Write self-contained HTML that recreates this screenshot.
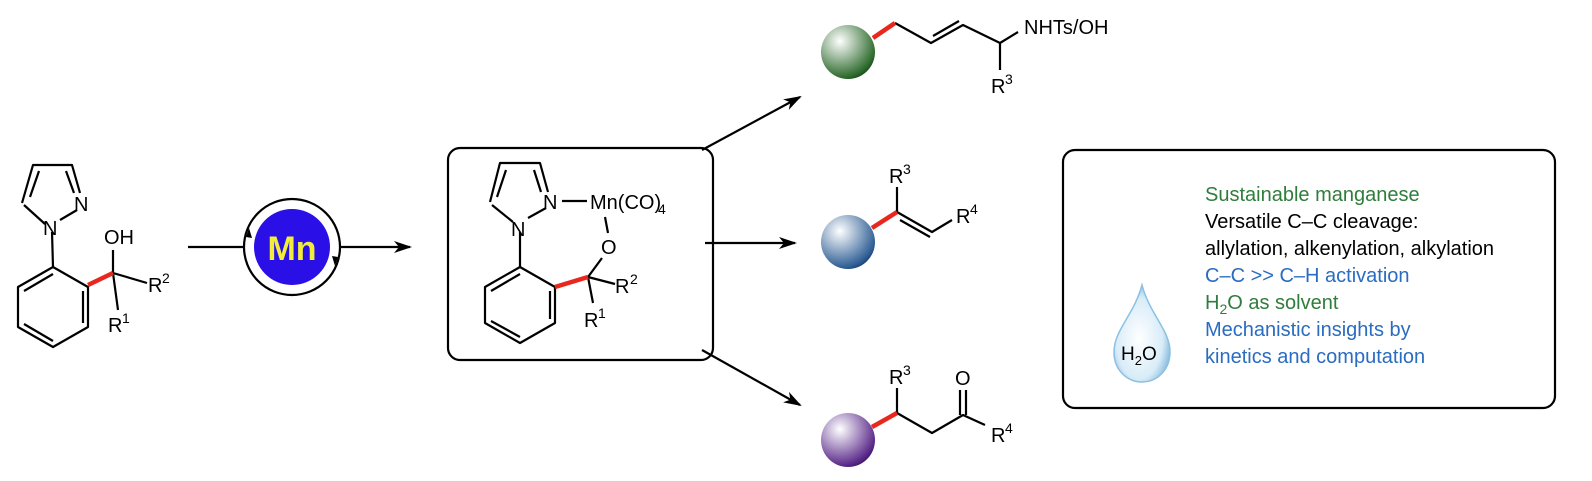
<!DOCTYPE html>
<html><head><meta charset="utf-8"><style>
html,body{margin:0;padding:0;background:#fff;}
svg{display:block;font-family:"Liberation Sans",Arial,sans-serif;}
</style></head><body>
<svg width="1592" height="481" viewBox="0 0 1592 481" xmlns="http://www.w3.org/2000/svg">
<defs>
<radialGradient id="gg" cx="0.35" cy="0.3" r="0.75"><stop offset="0" stop-color="#fff"/><stop offset="0.9" stop-color="#2e6b2e"/><stop offset="1" stop-color="#1e4f1e"/></radialGradient>
<radialGradient id="gb" cx="0.35" cy="0.3" r="0.75"><stop offset="0" stop-color="#fff"/><stop offset="0.9" stop-color="#2f5f95"/><stop offset="1" stop-color="#1d4477"/></radialGradient>
<radialGradient id="gp" cx="0.35" cy="0.3" r="0.75"><stop offset="0" stop-color="#fff"/><stop offset="0.9" stop-color="#5a2a8a"/><stop offset="1" stop-color="#421a6e"/></radialGradient>
<radialGradient id="gd" cx="0.45" cy="0.55" r="0.6"><stop offset="0" stop-color="#fff"/><stop offset="0.7" stop-color="#d8ecf8"/><stop offset="1" stop-color="#7fb5dc"/></radialGradient>
<marker id="ah" markerWidth="18" markerHeight="12" refX="16" refY="6" orient="auto" markerUnits="userSpaceOnUse"><path d="M0,0 L18,6 L0,12 L5,6 Z" fill="#000"/></marker>
</defs>
<g stroke="#000" stroke-width="2.2" fill="none" stroke-linejoin="round">
<!-- left molecule -->
<path d="M22,203 L33,165 L72,165 L80,193"/>
<path d="M30,197 L39,171 M66,171 L74,193"/>
<path d="M45,224 L24,205 M77,210 L60,220"/>
<path d="M52,232 L53,267"/>
<path d="M53,267 L88,287 L88,327 L53,347 L18,327 L18,287 Z"/>
<path d="M83,291 L83,323 M53,341 L24,324 M24,291 L53,274"/>
<path d="M113,273 L113,250 M113,273 L147,283 M113,273 L118,310"/>
<!-- arrow 1 -->
<path d="M188,247 L244,247"/>
<path d="M340,247 L410,247" marker-end="url(#ah)"/>
<circle cx="292" cy="247" r="48"/>
<!-- box middle -->
<rect x="448" y="148" width="265" height="212" rx="12"/>
<path d="M490,202 L500,163 L540,163 L548,192"/>
<path d="M497,197 L506,170 M534,170 L541,192"/>
<path d="M513,222 L492,205 M546,208 L528,218 M562,201 L587,201 M605,217 L608,233"/>
<path d="M520,232 L520,267"/>
<path d="M520,267 L555,287 L555,323 L520,343 L485,323 L485,287 Z"/>
<path d="M550,291 L550,319 M520,337 L491,321 M491,291 L520,274"/>
<path d="M588,277 L602,258 M588,277 L615,284 M588,277 L593,303"/>
<!-- arrows to products -->
<path d="M702,150 L800,97" marker-end="url(#ah)"/>
<path d="M705,243 L795,243" marker-end="url(#ah)"/>
<path d="M702,350 L800,405" marker-end="url(#ah)"/>
<!-- products -->
<path d="M895,23 L931,43 L963,25 L1000,43 L1018,32 M1000,43 L1000,70"/>
<path d="M933,36 L959,21"/>
<path d="M897,212 L897,187 M897,212 L932,232 L952,220 M900,220 L930,237"/>
<path d="M897,413 L897,388 M897,413 L932,433 L963,415 L985,425 M960,415 L960,390 M966,415 L966,390"/>
<!-- right box -->
<rect x="1063" y="150" width="492" height="258" rx="12"/>
</g>
<g stroke="#e8281e" stroke-width="4.5">
<path d="M88,285 L113,273"/>
<path d="M555,287 L588,277"/>
<path d="M873,38 L895,23"/>
<path d="M872,228 L897,212"/>
<path d="M872,427 L897,413"/>
</g>
<circle cx="292" cy="247" r="38" fill="#2a0fe6"/>
<path d="M246,237 L249,228 L252,238 Z M338,257 L335,266 L332,256 Z" fill="#000"/>
<text x="292" y="260" text-anchor="middle" font-size="34" font-weight="bold" fill="#f0ee3a">Mn</text>
<g font-size="20" fill="#000">
<text x="74" y="211">N</text>
<text x="43" y="235">N</text>
<text x="104" y="244">OH</text>
<text x="148" y="292">R</text><text x="162" y="283" font-size="14">2</text>
<text x="108" y="332">R</text><text x="122" y="323" font-size="14">1</text>
<text x="543" y="209">N</text>
<text x="511" y="236">N</text>
<text x="590" y="209">Mn(CO)</text><text x="658" y="214" font-size="14">4</text>
<text x="601" y="254">O</text>
<text x="615" y="293">R</text><text x="630" y="284" font-size="14">2</text>
<text x="584" y="327">R</text><text x="598" y="318" font-size="14">1</text>
<text x="1024" y="34">NHTs/OH</text>
<text x="991" y="93">R</text><text x="1005" y="84" font-size="14">3</text>
<text x="889" y="183">R</text><text x="903" y="174" font-size="14">3</text>
<text x="956" y="223">R</text><text x="970" y="214" font-size="14">4</text>
<text x="889" y="384">R</text><text x="903" y="375" font-size="14">3</text>
<text x="955" y="385">O</text>
<text x="991" y="442">R</text><text x="1005" y="433" font-size="14">4</text>
</g>
<circle cx="848" cy="52" r="27" fill="url(#gg)"/>
<circle cx="848" cy="242" r="27" fill="url(#gb)"/>
<circle cx="848" cy="440" r="27" fill="url(#gp)"/>
<!-- drop -->
<path d="M1142,285 C1150,315 1170,330 1170,352 C1170,370 1157,382 1142,382 C1127,382 1114,370 1114,352 C1114,330 1134,315 1142,285 Z" fill="url(#gd)" stroke="#8cc0e3" stroke-width="1.5"/>
<text x="1121" y="360" font-size="19" fill="#000">H<tspan font-size="13" dy="5">2</tspan><tspan dy="-5">O</tspan></text>
<g font-size="20">
<text x="1205" y="201" fill="#2f7d3c">Sustainable manganese</text>
<text x="1205" y="228" fill="#000">Versatile C–C cleavage:</text>
<text x="1205" y="255" fill="#000">allylation, alkenylation, alkylation</text>
<text x="1205" y="282" fill="#2a6cc0">C–C &gt;&gt; C–H activation</text>
<text x="1205" y="309" fill="#2f7d3c">H<tspan font-size="14" dy="5">2</tspan><tspan dy="-5">O as solvent</tspan></text>
<text x="1205" y="336" fill="#2a6cc0">Mechanistic insights by</text>
<text x="1205" y="363" fill="#2a6cc0">kinetics and computation</text>
</g>
</svg>
</body></html>
